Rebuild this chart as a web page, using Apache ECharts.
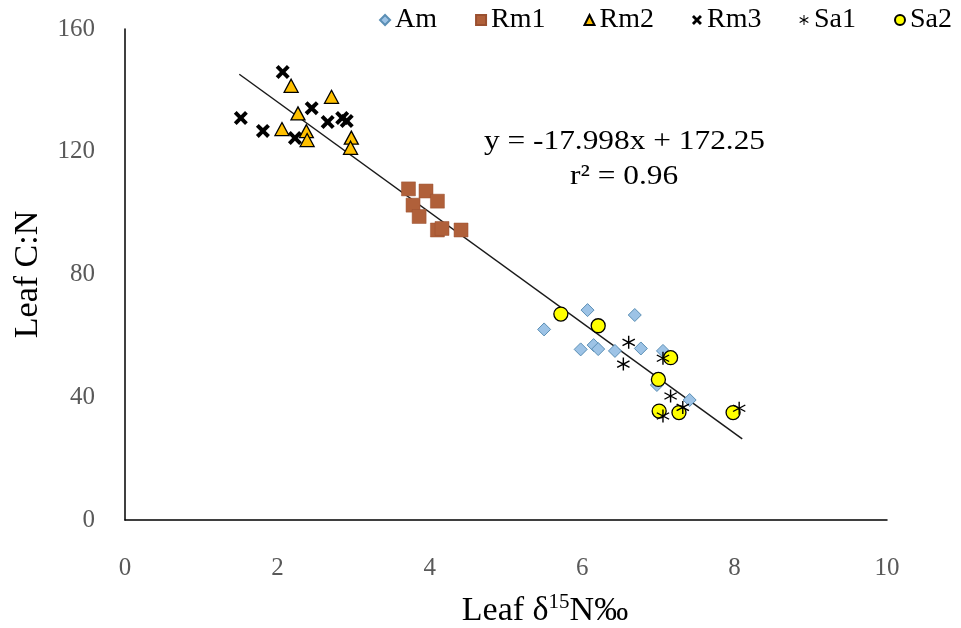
<!DOCTYPE html>
<html><head><meta charset="utf-8">
<script src="https://cdn.jsdelivr.net/npm/echarts@6/dist/echarts.min.js"></script>
<style>html,body{margin:0;padding:0;background:#fff}#c{width:961px;height:628px}</style>
</head><body><div id="c"></div>
<script>
var seriesNames = ['Am', 'Rm1', 'Rm2', 'Rm3', 'Sa1', 'Sa2'];
var amData = [[5.50,62.1],[6.07,68.4],[6.69,66.8],[5.98,55.6],[6.15,57.0],[6.21,55.7],[6.43,55.1],[6.77,55.9],[7.06,55.1],[6.98,44.0],[7.41,39.1]];
var rm1Data = [[3.72,107.9],[3.95,107.2],[4.10,103.9],[3.78,102.6],[3.86,98.9],[4.10,94.5],[4.16,95.0],[4.41,94.5]];
var rm2Data = [[2.18,141.5],[2.71,137.9],[2.27,132.5],[2.06,127.4],[2.38,126.7],[2.39,123.8],[2.97,124.6],[2.96,121.3]];
var rm3Data = [[1.52,131.0],[1.81,126.8],[2.07,146.0],[2.23,124.5],[2.45,134.2],[2.66,129.7],[2.85,131.0],[2.91,130.0]];
var sa1Data = [[6.61,57.9],[6.54,50.8],[7.06,52.7],[7.16,40.4],[7.32,36.7],[7.06,33.9],[8.06,36.4]];
var sa2Data = [[5.72,67.1],[6.21,63.3],[7.16,52.9],[7.00,45.8],[7.01,35.5],[7.27,35.0],[7.98,35.0]];
var slope = -17.998, intercept = 172.25, trendRange = [1.5, 8.1];
var xTicks = [0, 2, 4, 6, 8, 10];
var yTicks = [0, 40, 80, 120, 160];
var equationText = 'y = -17.998x + 172.25';
var r2Text = 'r² = 0.96';

var serif = '"Liberation Serif", "Times New Roman", serif';
var xPath = 'path://M-10,-6 L-6,-10 L0,-4 L6,-10 L10,-6 L4,0 L10,6 L6,10 L0,4 L-6,10 L-10,6 L-4,0 Z';
var starPath = 'path://M-1,10 L1,10 L1,-10 L-1,-10 Z M8.16,5.87 L9.16,4.13 L-8.16,-5.87 L-9.16,-4.13 Z M-9.16,4.13 L-8.16,5.87 L9.16,-4.13 L8.16,-5.87 Z';

var trend = trendRange.map(function(x){ return [x, slope * x + intercept]; });

var chart = echarts.init(document.getElementById('c'));
chart.setOption({
  animation: false,
  backgroundColor: '#fff',
  grid: { left: 125, right: 74, top: 29, bottom: 108, containLabel: false, outerBoundsMode: 'none' },
  legend: {
    data: seriesNames,
    top: 1, right: 4,
    itemWidth: 10, itemHeight: 10, itemGap: 38,
    textStyle: { fontFamily: serif, fontSize: 28, color: '#000' }
  },
  xAxis: {
    type: 'value', min: xTicks[0], max: xTicks[xTicks.length-1], interval: 2,
    axisLine: { show: true, lineStyle: { color: '#000', width: 1.5 } },
    axisTick: { show: false },
    splitLine: { show: false },
    axisLabel: { fontFamily: serif, fontSize: 25, color: '#595959', margin: 36 },
    name: '{n|Leaf δ}{s|15}{n|N‰}', nameLocation: 'middle', nameGap: 72,
    nameTextStyle: { padding: [0, 0, 0, 78], rich: {
      n: { fontFamily: serif, fontSize: 34, color: '#000', verticalAlign: 'bottom', lineHeight: 36 },
      s: { fontFamily: serif, fontSize: 21, color: '#000', verticalAlign: 'top', lineHeight: 36, padding: [0,0,14,0] }
    } }
  },
  yAxis: {
    type: 'value', min: yTicks[0], max: yTicks[yTicks.length-1], interval: 40,
    axisLine: { show: true, lineStyle: { color: '#000', width: 1.5 } },
    axisTick: { show: false },
    splitLine: { show: false },
    axisLabel: { fontFamily: serif, fontSize: 25, color: '#595959', margin: 30 },
    name: 'Leaf C:N', nameLocation: 'middle', nameGap: 80,
    nameTextStyle: { fontFamily: serif, fontSize: 34, color: '#000' }
  },
  graphic: [
    { type: 'text', x: 484, y: 128, scaleX: 1.12, style: { text: equationText, font: '28px ' + serif, fill: '#000', verticalAlign: 'top' } },
    { type: 'text', x: 570, y: 163, scaleX: 1.12, style: { text: r2Text, font: '28px ' + serif, fill: '#000', verticalAlign: 'top' } }
  ],
  series: [
    { type: 'line', name: 'trend', data: trend, symbol: 'none', lineStyle: { color: '#1a1a1a', width: 1.5 }, z: 1, silent: true },
    { type: 'scatter', name: 'Am', data: amData, symbol: 'diamond', symbolSize: 13, itemStyle: { color: '#9dc3e6', borderColor: '#5b8fb5', borderWidth: 1, opacity: 1 }, z: 3 },
    { type: 'scatter', name: 'Rm1', data: rm1Data, symbol: 'rect', symbolSize: 14, itemStyle: { color: '#b0603a', borderColor: '#9a5030', borderWidth: 0.5, opacity: 1 }, z: 3 },
    { type: 'scatter', name: 'Rm2', data: rm2Data, symbol: 'triangle', symbolSize: [14, 13], itemStyle: { color: '#ffc000', borderColor: '#000', borderWidth: 1.3, opacity: 1 }, z: 3 },
    { type: 'scatter', name: 'Rm3', data: rm3Data, symbol: xPath, symbolSize: 14, itemStyle: { color: '#000', opacity: 1 }, z: 3 },
    { type: 'scatter', name: 'Sa1', data: sa1Data, symbol: starPath, symbolSize: 13, itemStyle: { color: '#000', opacity: 1 }, z: 5 },
    { type: 'scatter', name: 'Sa2', data: sa2Data, symbol: 'circle', symbolSize: 14, itemStyle: { color: '#ffff00', borderColor: '#000', borderWidth: 1.3, opacity: 1 }, z: 4 }
  ]
});
</script></body></html>
